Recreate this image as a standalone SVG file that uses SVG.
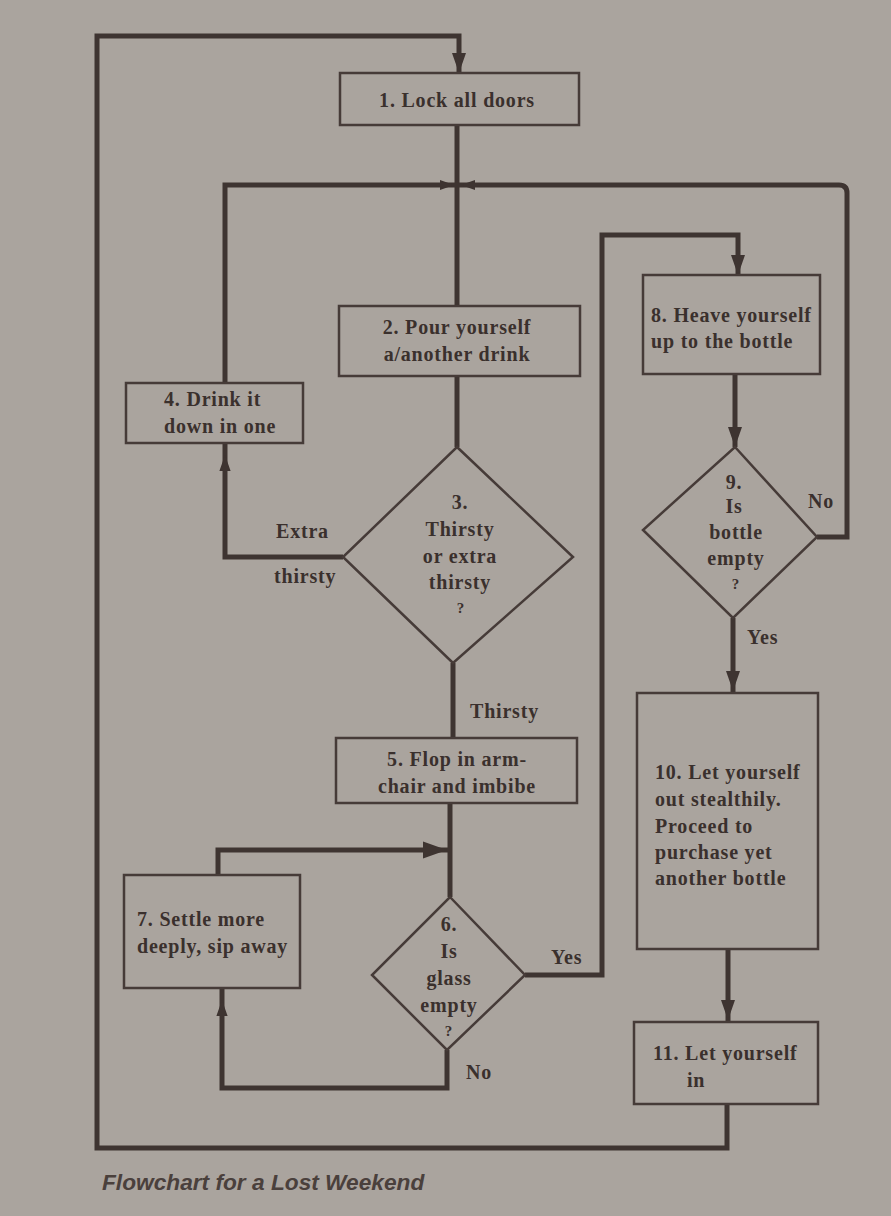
<svg xmlns="http://www.w3.org/2000/svg" xmlns:xlink="http://www.w3.org/1999/xlink" width="891" height="1216" viewBox="0 0 891 1216">
<style>
.bg{fill:#aaa49e}
.box{fill:none;stroke:#463b38;stroke-width:2.5}
.ln{fill:none;stroke:#3e3431;stroke-width:5;stroke-linejoin:miter}
.t{font-family:"Liberation Serif","Times New Roman",serif;font-size:20px;letter-spacing:0.8px;fill:#3a302d;font-weight:bold}
.c{text-anchor:middle}
.q{font-size:15px}
.cap{font-family:"Liberation Sans",Arial,sans-serif;font-style:italic;font-weight:bold;font-size:22.7px;fill:#4a403c}
.ah{fill:#3e3431}
</style>
<defs>
<path id="ah" d="M0,0 L-7,-20 L7,-20 Z"/>
</defs>
<rect class="bg" x="0" y="0" width="891" height="1216"/>
<g id="connectors">
<path class="ln" d="M459,73 V36 H97 V1148 H727 V1104"/>
<path class="ln" d="M457,125 V306"/>
<path class="ln" d="M457,376 V447"/>
<path class="ln" d="M225,383 V185 H457"/>
<path class="ln" d="M343,557 H225 V443"/>
<path class="ln" d="M817,537 H847 V193 Q847,185 839,185 H457"/>
<path class="ln" d="M453,663 V738"/>
<path class="ln" d="M450,803 V897"/>
<path class="ln" d="M218,875 V850 H450"/>
<path class="ln" d="M447,1050 V1088 H222 V988"/>
<path class="ln" d="M525,975 H602 V235 H738 V275"/>
<path class="ln" d="M735,374 V447"/>
<path class="ln" d="M733,618 V693"/>
<path class="ln" d="M728,949 V1022"/>
<use href="#ah" class="ah" transform="translate(459,73)"/>
<use href="#ah" class="ah" transform="translate(454,185) rotate(-90) scale(0.7)"/>
<use href="#ah" class="ah" transform="translate(461,185) rotate(90) scale(0.7)"/>
<use href="#ah" class="ah" transform="translate(225,455) rotate(180) scale(0.8)"/>
<use href="#ah" class="ah" transform="translate(738,275)"/>
<use href="#ah" class="ah" transform="translate(735,447)"/>
<use href="#ah" class="ah" transform="translate(733,691)"/>
<use href="#ah" class="ah" transform="translate(728,1020)"/>
<use href="#ah" class="ah" transform="translate(447,850) rotate(-90) scale(1.2)"/>
<use href="#ah" class="ah" transform="translate(222,1000) rotate(180) scale(0.8)"/>
<text class="t" x="276" y="538">Extra</text>
<text class="t" x="274" y="583">thirsty</text>
<text class="t" x="470" y="718">Thirsty</text>
<text class="t" x="551" y="964">Yes</text>
<text class="t" x="466" y="1079">No</text>
<text class="t" x="808" y="508">No</text>
<text class="t" x="747" y="644">Yes</text>
</g>
<g id="n1"><rect class="box" x="340" y="73" width="239" height="52"/><text class="t c" x="457" y="107">1. Lock all doors</text></g>
<g id="n2"><rect class="box" x="339" y="306" width="241" height="70"/><text class="t c" x="457" y="334">2. Pour yourself</text><text class="t c" x="457" y="361">a/another drink</text></g>
<g id="n3"><polygon class="box" points="457,447 573,557 453,663 343,557"/><text class="t c" x="460" y="509">3.</text><text class="t c" x="460" y="536">Thirsty</text><text class="t c" x="460" y="563">or extra</text><text class="t c" x="460" y="589">thirsty</text><text class="t c q" x="461" y="613">?</text></g>
<g id="n4"><rect class="box" x="126" y="383" width="177" height="60"/><text class="t" x="164" y="406">4. Drink it</text><text class="t" x="164" y="433">down in one</text></g>
<g id="n5"><rect class="box" x="336" y="738" width="241" height="65"/><text class="t c" x="457" y="766">5. Flop in arm-</text><text class="t c" x="457" y="793">chair and imbibe</text></g>
<g id="n6"><polygon class="box" points="450,897 525,975 447,1050 372,975"/><text class="t c" x="449" y="931">6.</text><text class="t c" x="449" y="958">Is</text><text class="t c" x="449" y="985">glass</text><text class="t c" x="449" y="1012">empty</text><text class="t c q" x="449" y="1036">?</text></g>
<g id="n7"><rect class="box" x="124" y="875" width="176" height="113"/><text class="t" x="137" y="926">7. Settle more</text><text class="t" x="137" y="953">deeply, sip away</text></g>
<g id="n8"><rect class="box" x="643" y="275" width="177" height="99"/><text class="t" x="651" y="322">8. Heave yourself</text><text class="t" x="651" y="348">up to the bottle</text></g>
<g id="n9"><polygon class="box" points="735,447 817,537 733,618 643,530"/><text class="t c" x="734" y="489">9.</text><text class="t c" x="734" y="513">Is</text><text class="t c" x="736" y="539">bottle</text><text class="t c" x="736" y="565">empty</text><text class="t c q" x="736" y="589">?</text></g>
<g id="n10"><rect class="box" x="637" y="693" width="181" height="256"/><text class="t" x="655" y="779">10. Let yourself</text><text class="t" x="655" y="806">out stealthily.</text><text class="t" x="655" y="833">Proceed to</text><text class="t" x="655" y="859">purchase yet</text><text class="t" x="655" y="885">another bottle</text></g>
<g id="n11"><rect class="box" x="634" y="1022" width="184" height="82"/><text class="t" x="653" y="1060">11. Let yourself</text><text class="t" x="687" y="1087">in</text></g>
<text class="cap" x="102" y="1190">Flowchart for a Lost Weekend</text>
</svg>
